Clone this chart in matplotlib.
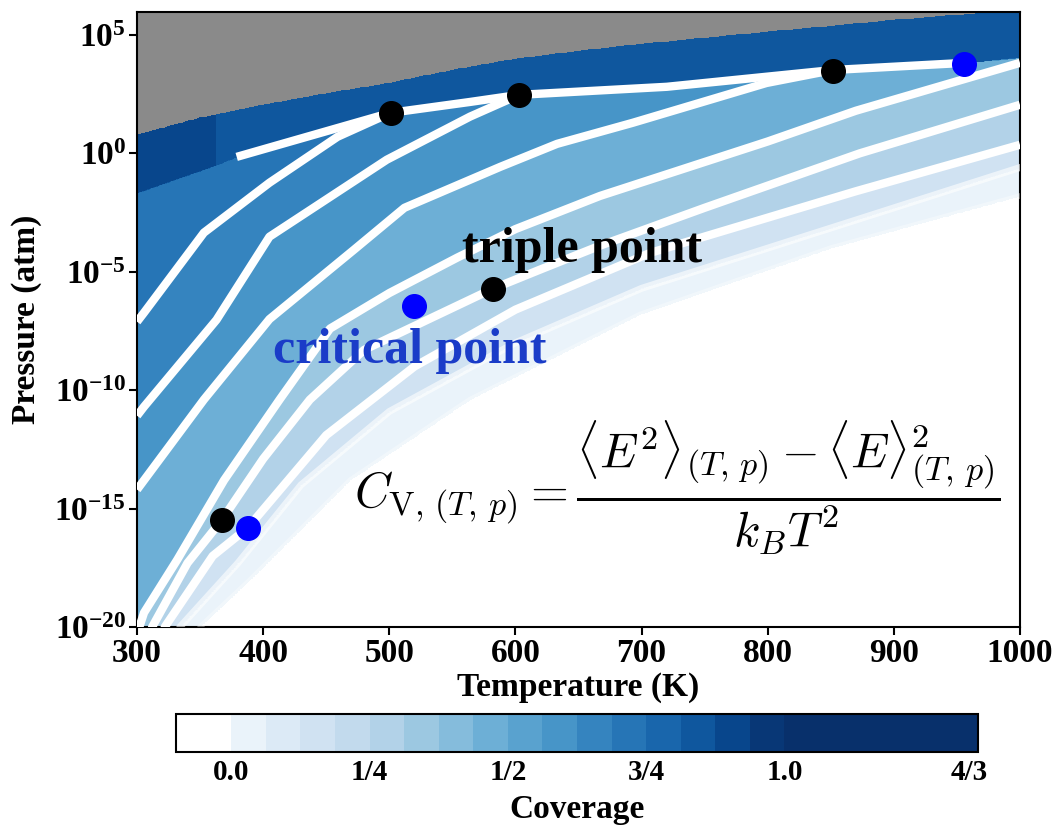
"""Coverage phase diagram (T, p) with phase boundaries, triple and critical points."""
import numpy as np
import matplotlib
matplotlib.use("Agg")
import matplotlib.pyplot as plt
from matplotlib.colors import LinearSegmentedColormap

plt.rcParams["font.family"] = ["Liberation Serif", "DejaVu Serif"]
plt.rcParams["font.weight"] = "bold"
plt.rcParams["axes.labelweight"] = "bold"
plt.rcParams["mathtext.fontset"] = "custom"
plt.rcParams["mathtext.rm"] = "Liberation Serif:bold"
plt.rcParams["mathtext.it"] = "Liberation Serif:bold:italic"
plt.rcParams["mathtext.bf"] = "Liberation Serif:bold"

# ---- data: temperatures (K) and log10(p / atm) ----
# upper limit of the computed region (grey above it)
GREY_T = [300, 350, 400, 450, 500, 550, 600, 650, 700, 800, 900, 1000]
GREY_LP = [0.78, 1.50, 2.05, 2.53, 2.97, 3.52, 3.99, 4.32, 4.62, 5.13, 5.63, 6.05]

# top boundary: first triple point -> critical point (and on to the edge)
TOP_T = [501, 564, 603, 720, 852, 956, 1000]
TOP_LP = [1.71, 2.17, 2.47, 2.81, 3.52, 3.82, 4.05]

SHORT_T = [300, 363, 379, 501]
SHORT_LP = [-1.67, -0.49, -0.15, 1.71]
L1_T = [300, 305.5, 353, 405, 459, 501]
L1_LP = [-7.11, -6.73, -3.35, -1.24, 0.70, 1.71]
L2_T = [300, 305.5, 363, 405, 498, 564, 603]
L2_LP = [-11.08, -10.7, -7.03, -3.52, -0.27, 1.55, 2.47]
L3_T = [300, 353, 405, 472, 512, 588, 633, 693, 799, 852]
L3_LP = [-14.2, -10.4, -7.0, -4.07, -2.3, -0.57, 0.4, 1.29, 2.97, 3.52]
L4_T = [300, 305.5, 332, 369, 413, 453, 500, 554, 600, 667, 800, 870, 1000]
L4_LP = [-20.3, -19.4, -17.15, -13.8, -10.4, -7.4, -5.9, -4.4, -3.2, -1.8, 0.5, 1.8, 3.82]
L5_T = [300, 312, 340, 367, 400, 437, 480, 582, 620, 667, 750, 873, 1000]
L5_LP = [-23.0, -20.0, -17.3, -15.5, -12.9, -10.4, -8.3, -5.72, -4.9, -3.9, -2.3, 0.0, 2.05]
L6_T = [300, 322, 360, 388, 450, 520, 600, 707, 870, 1000]
L6_LP = [-25.0, -20.0, -17.0, -15.8, -11.9, -9.0, -6.6, -4.2, -1.6, 0.36]
L7_T = [300, 334, 380, 430, 500, 600, 700, 865, 1000]
L7_LP = [-28.0, -20.0, -17.3, -14.0, -10.9, -8.0, -5.7, -2.9, -0.6]
L8_T = [300, 350, 390, 469, 564, 699, 850, 1000]
L8_LP = [-30.0, -20.0, -18.0, -13.8, -10.4, -6.8, -4.0, -1.8]

# coverage step across each boundary (going up in pressure)
BASE_COV = -0.05
STEP_DC = {"short": 0.13, "L1": 0.05, "L2": 0.07, "L3": 0.12, "L4": 0.12,
           "L5": 0.10, "L6": 0.12, "L7": 0.09, "L8": 0.10}
CORNER_T, CORNER_DC = 363, 0.05

TRIPLE_T = [501.4, 602.8, 851.8, 582.2, 367.4]
TRIPLE_LP = [1.71, 2.47, 3.48, -5.72, -15.5]
CRIT_T = [955.6, 519.5, 388.0]
CRIT_LP = [3.78, -6.43, -15.8]

LEVELS = np.concatenate(([-0.1], np.arange(0, 1.0001, 1 / 16), [1.35]))
CB_TICKS = [0, 0.25, 0.5, 0.75, 1.0, 4 / 3]
CB_LABELS = ["0.0", "1/4", "1/2", "3/4", "1.0", "4/3"]


def joined(t, lp, join):
    """Branch line continued along the top boundary past its junction."""
    tt = list(t) + [x for x in TOP_T if x > join]
    ll = list(lp) + [y for x, y in zip(TOP_T, TOP_LP) if x > join]
    return np.array(tt, float), np.array(ll, float)


steps = [
    (*joined(SHORT_T, SHORT_LP, 501), STEP_DC["short"]),
    (*joined(L1_T, L1_LP, 501), STEP_DC["L1"]),
    (*joined(L2_T, L2_LP, 603), STEP_DC["L2"]),
    (*joined(L3_T, L3_LP, 852), STEP_DC["L3"]),
    (np.array(L4_T), np.array(L4_LP), STEP_DC["L4"]),
    (np.array(L5_T), np.array(L5_LP), STEP_DC["L5"]),
    (np.array(L6_T), np.array(L6_LP), STEP_DC["L6"]),
    (np.array(L7_T), np.array(L7_LP), STEP_DC["L7"]),
    (np.array(L8_T), np.array(L8_LP), STEP_DC["L8"]),
]

tg = np.linspace(300, 1000, 701)
lg = np.linspace(-20.5, 6.3, 805)
TT, LL = np.meshgrid(tg, lg)
cov = np.full(TT.shape, BASE_COV)
for t, lp, dc in steps:
    cov += dc * (LL > np.interp(TT, t, lp))
st, sl, _ = steps[0]
cov += CORNER_DC * ((TT < CORNER_T) & (LL > np.interp(TT, st, sl)))
cov = np.ma.masked_where(LL > np.interp(TT, GREY_T, GREY_LP), cov)

blues = plt.get_cmap("Blues")
cmap = LinearSegmentedColormap.from_list(
    "blues_w", [(0.0, "white")] + [(x, blues(x)) for x in np.linspace(0.1, 1, 10)])

fig = plt.figure(figsize=(10.64, 8.30), dpi=100)
ax = fig.add_axes([0.1288, 0.2446, 0.8298, 0.7410])
ax.set_facecolor("#8a8a8a")
cs = ax.contourf(tg, 10.0 ** lg, cov, levels=LEVELS, cmap=cmap,
                 vmin=-0.05, vmax=1.0)

line_kw = dict(color="white", lw=6, solid_capstyle="butt", zorder=3)
ax.plot(TOP_T[:-1], 10.0 ** np.array(TOP_LP[:-1]), **line_kw)
ax.plot(SHORT_T[2:], 10.0 ** np.array(SHORT_LP[2:]), **line_kw)
for t, lp in [(L1_T, L1_LP), (L2_T, L2_LP), (L3_T, L3_LP),
              (L4_T, L4_LP), (L5_T, L5_LP), (L6_T, L6_LP)]:
    ax.plot(t, 10.0 ** np.array(lp), **line_kw)
ax.plot(L7_T, 10.0 ** np.array(L7_LP), color="white", lw=5, alpha=0.6, zorder=3)
ax.plot(L8_T, 10.0 ** np.array(L8_LP), color="white", lw=4, alpha=0.35, zorder=3)

ax.plot(TRIPLE_T, 10.0 ** np.array(TRIPLE_LP), "o", color="black", ms=17, zorder=5)
ax.plot(CRIT_T, 10.0 ** np.array(CRIT_LP), "o", color="#0000ff", ms=17, zorder=5)

ax.text(557.6, 10 ** -4.58, "triple point", fontsize=36, color="black",
        ha="left", va="baseline", zorder=6)
ax.text(407.8, 10 ** -8.84, "critical point", fontsize=36, color="#1a3cc8",
        ha="left", va="baseline", zorder=6)
ax.text(0.612, 0.226,
        r"$C_{\mathrm{V},\,(T,\,p)} = \dfrac{\langle E^2\rangle_{(T,\,p)}"
        r" - \langle E\rangle^2_{(T,\,p)}}{k_B T^2}$",
        transform=ax.transAxes, fontsize=35, ha="center", va="center",
        math_fontfamily="cm", zorder=6)

ax.set_yscale("log")
ax.set_xlim(300, 1000)
ax.set_ylim(1e-20, 10 ** 5.97)
ax.set_xticks(range(300, 1001, 100))
ax.set_yticks([10.0 ** k for k in range(-20, 6, 5)])
ax.minorticks_off()
ax.tick_params(labelsize=24, direction="out", length=6, width=1.5, pad=2)
ax.set_xlabel("Temperature (K)", fontsize=24, labelpad=2)
ax.set_ylabel("Pressure (atm)", fontsize=24, labelpad=9)
for s in ax.spines.values():
    s.set_linewidth(1.5)

cax = fig.add_axes([0.1654, 0.0940, 0.7538, 0.0458])
cb = fig.colorbar(cs, cax=cax, orientation="horizontal", spacing="proportional",
                  ticks=CB_TICKS)
cb.ax.set_xticklabels(CB_LABELS)
cb.ax.tick_params(labelsize=21, length=0, pad=5)
cb.outline.set_linewidth(1.5)
cb.set_label("Coverage", fontsize=24, labelpad=6)

fig.savefig("out.png", dpi=100)
